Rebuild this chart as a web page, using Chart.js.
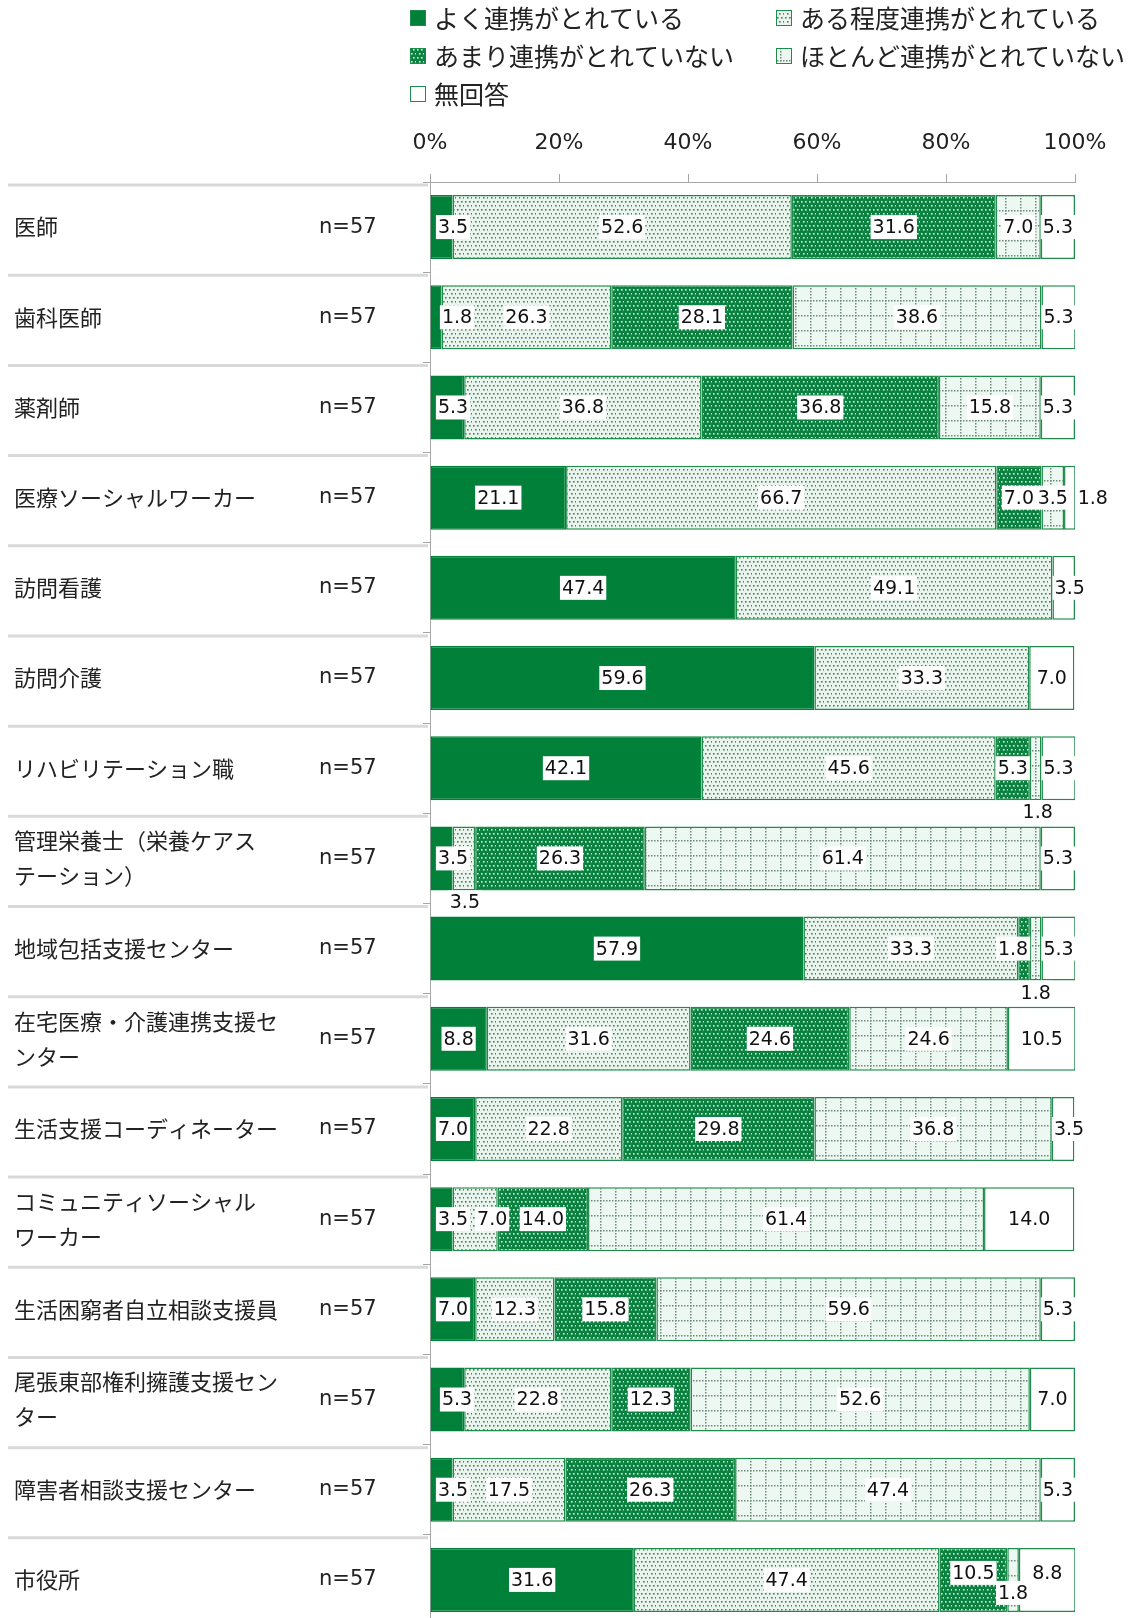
<!DOCTYPE html>
<html lang="ja">
<head>
<meta charset="UTF-8">
<title>連携状況</title>
<script src="https://cdn.jsdelivr.net/npm/chart.js"></script>
<style>
  html, body { margin: 0; padding: 0; background: #fff; overflow: hidden; }
  #wrap { position: relative; width: 1135px; height: 1625px; }
</style>
</head>
<body>
<div id="wrap"><canvas id="chart"></canvas></div>
<script>
const categories = [
  ['医師'], ['歯科医師'], ['薬剤師'], ['医療ソーシャルワーカー'], ['訪問看護'], ['訪問介護'],
  ['リハビリテーション職'], ['管理栄養士（栄養ケアス', 'テーション）'], ['地域包括支援センター'],
  ['在宅医療・介護連携支援セ', 'ンター'], ['生活支援コーディネーター'], ['コミュニティソーシャル', 'ワーカー'],
  ['生活困窮者自立相談支援員'], ['尾張東部権利擁護支援セン', 'ター'], ['障害者相談支援センター'], ['市役所']
];
const sampleSizes = [57, 57, 57, 57, 57, 57, 57, 57, 57, 57, 57, 57, 57, 57, 57, 57];
const seriesNames = ['よく連携がとれている', 'ある程度連携がとれている', 'あまり連携がとれていない', 'ほとんど連携がとれていない', '無回答'];

const wellConnected   = [3.5, 1.8, 5.3, 21.1, 47.4, 59.6, 42.1, 3.5, 57.9, 8.8, 7.0, 3.5, 7.0, 5.3, 3.5, 31.6];
const fairlyConnected = [52.6, 26.3, 36.8, 66.7, 49.1, 33.3, 45.6, 3.5, 33.3, 31.6, 22.8, 7.0, 12.3, 22.8, 17.5, 47.4];
const poorlyConnected = [31.6, 28.1, 36.8, 7.0, null, null, 5.3, 26.3, 1.8, 24.6, 29.8, 14.0, 15.8, 12.3, 26.3, 10.5];
const hardlyConnected = [7.0, 38.6, 15.8, 3.5, null, null, 1.8, 61.4, 1.8, 24.6, 36.8, 61.4, 59.6, 52.6, 47.4, 1.8];
const noAnswer        = [5.3, 5.3, 5.3, 1.8, 3.5, 7.0, 5.3, 5.3, 5.3, 10.5, 3.5, 14.0, 5.3, 7.0, 5.3, 8.8];

const xTicks = [0, 20, 40, 60, 80, 100];

// label nudges for the tiny segments: [row, series, dx, dy]
const labelNudges = [
  [1, 0, 4, 0], [13, 0, 4, 0], [11, 1, 17, 0],
  [3, 4, 23, 0], [4, 4, 6, 0], [10, 4, 6, 0],
  [6, 3, 2, 44], [7, 1, 1, 44], [8, 2, -11, 0], [8, 3, 0, 44],
  [15, 2, 0, -7], [15, 3, 0, 13], [15, 4, 0, -7]
];

const ctx = document.getElementById('chart').getContext('2d');
const green = '#008038';
const lineGreen = '#1e8c4a';

function dotPattern(bg, dot) {
  const c = document.createElement('canvas');
  c.width = 8; c.height = 8;
  const g = c.getContext('2d');
  g.fillStyle = bg; g.fillRect(0, 0, 8, 8);
  g.fillStyle = dot;
  [[1, 1], [5, 1], [3, 5], [7, 5]].forEach(p => g.fillRect(p[0], p[1], 1.6, 1.6));
  return ctx.createPattern(c, 'repeat');
}

function gridPattern() {
  const c = document.createElement('canvas');
  c.width = 15; c.height = 15;
  const g = c.getContext('2d');
  g.fillStyle = '#eef8f2'; g.fillRect(0, 0, 15, 15);
  g.fillStyle = '#6d8b79';
  for (let i = 0; i < 15; i += 3) {
    g.fillRect(i, 0, 1.5, 1.5);
    g.fillRect(0, i, 1.5, 1.5);
  }
  return ctx.createPattern(c, 'repeat');
}

const fills = [green, dotPattern('#e8f4ec', '#587a67'), dotPattern('#0b8240', '#cfeedd'), gridPattern(), '#ffffff'];
const seriesValues = [wellConnected, fairlyConnected, poorlyConnected, hardlyConnected, noAnswer];

const rowLabels = {
  id: 'rowLabels',
  beforeDraw(chart) {
    const c = chart.ctx, ys = chart.scales.y, area = chart.chartArea;
    const pitch = (area.bottom - area.top) / categories.length;
    c.save();
    c.strokeStyle = '#d9d9d9';
    c.lineWidth = 3;
    for (let i = 0; i <= categories.length; i++) {
      const y = area.top + i * pitch + 3;
      c.beginPath(); c.moveTo(8, y); c.lineTo(428, y); c.stroke();
    }
    c.fillStyle = '#222';
    c.textBaseline = 'middle';
    categories.forEach((lines, i) => {
      const y = ys.getPixelForValue(i);
      c.font = '22px "Noto Sans CJK JP"';
      lines.forEach((t, k) => c.fillText(t, 14, y + (k - (lines.length - 1) / 2) * 35));
      c.font = '21px "DejaVu Sans"';
      c.fillText('n=' + sampleSizes[i], 319, y);
    });
    c.restore();
  }
};

const segLabels = {
  id: 'segLabels',
  afterDatasetsDraw(chart) {
    const c = chart.ctx, area = chart.chartArea;
    c.save();
    c.font = '19px "DejaVu Sans"';
    c.textAlign = 'center';
    c.textBaseline = 'middle';
    chart.data.datasets.forEach((ds, di) => {
      chart.getDatasetMeta(di).data.forEach((bar, ri) => {
        const v = ds.data[ri];
        if (v == null) return;
        const txt = v.toFixed(1);
        let x = Math.max((bar.x + bar.base) / 2, area.left + 23);
        let y = bar.y;
        labelNudges.forEach(n => { if (n[0] === ri && n[1] === di) { x += n[2]; y += n[3]; } });
        const w = c.measureText(txt).width;
        c.fillStyle = '#fff';
        c.fillRect(x - w / 2 - 2, y - 12, w + 4, 24);
        c.fillStyle = '#111';
        c.fillText(txt, x, y + 1);
      });
    });
    c.restore();
  }
};

const legendBox = {
  id: 'legendBox',
  afterDraw(chart) {
    const c = chart.ctx;
    const slots = [[410, 18], [776, 18], [410, 56], [776, 56], [410, 94]];
    c.save();
    c.font = '25px "Noto Sans CJK JP"';
    c.textBaseline = 'middle';
    seriesNames.forEach((name, i) => {
      const [x, y] = slots[i];
      c.fillStyle = fills[i];
      c.fillRect(x, y - 8, 16, 16);
      c.strokeStyle = lineGreen;
      c.lineWidth = 1;
      c.strokeRect(x + 0.5, y - 7.5, 15, 15);
      c.fillStyle = '#222';
      c.fillText(name, x + 24, y);
    });
    c.restore();
  }
};

new Chart(ctx, {
  type: 'bar',
  data: {
    labels: categories,
    datasets: seriesValues.map((vals, i) => ({
      label: seriesNames[i],
      data: vals,
      backgroundColor: fills[i],
      borderColor: i === 0 ? green : lineGreen,
      borderWidth: 1.5,
      borderSkipped: false,
      barPercentage: 0.71,
      categoryPercentage: 1
    }))
  },
  options: {
    indexAxis: 'y',
    responsive: true,
    maintainAspectRatio: false,
    animation: false,
    layout: { padding: { top: 123, right: 60, left: 0, bottom: 0 } },
    plugins: { legend: { display: false }, tooltip: { enabled: false } },
    scales: {
      x: {
        position: 'top',
        stacked: true,
        min: 0,
        max: 100,
        afterBuildTicks: s => { s.ticks = xTicks.map(v => ({ value: v })); },
        afterFit: s => { s.height = 59; },
        ticks: {
          padding: 18,
          color: '#222',
          font: { family: 'DejaVu Sans', size: 22 },
          callback: v => v + '%'
        },
        grid: { drawOnChartArea: false, tickLength: 8, color: '#a6a6a6' },
        border: { color: '#a6a6a6' }
      },
      y: {
        stacked: true,
        afterFit: s => { s.width = 430; },
        ticks: { display: false },
        grid: { drawOnChartArea: false, offset: true, tickLength: 7, color: '#a6a6a6' },
        border: { color: '#a6a6a6' }
      }
    }
  },
  plugins: [rowLabels, segLabels, legendBox]
});
</script>
</body>
</html>
